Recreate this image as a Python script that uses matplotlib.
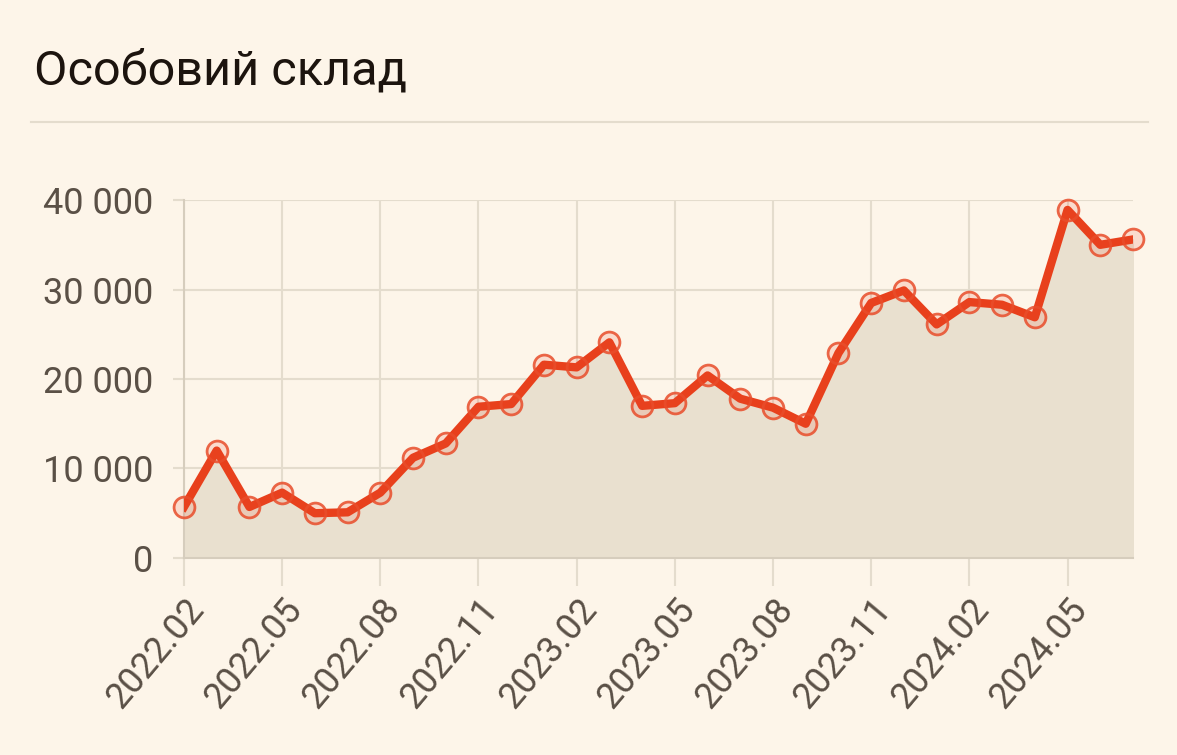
import numpy as np
import matplotlib.pyplot as plt

months = ["2022.02", "2022.03", "2022.04", "2022.05", "2022.06", "2022.07",
          "2022.08", "2022.09", "2022.10", "2022.11", "2022.12", "2023.01",
          "2023.02", "2023.03", "2023.04", "2023.05", "2023.06", "2023.07",
          "2023.08", "2023.09", "2023.10", "2023.11", "2023.12", "2024.01",
          "2024.02", "2024.03", "2024.04", "2024.05", "2024.06", "2024.07"]
personnel = [5700, 12000, 5700, 7300, 5000, 5100,
             7300, 11200, 12800, 16900, 17200, 21600,
             21300, 24100, 17000, 17300, 20400, 17800,
             16800, 15000, 22900, 28500, 29900, 26100,
             28600, 28300, 26900, 38900, 35000, 35600]
y_ticks = [0, 10000, 20000, 30000, 40000]

bg = "#fdf5e9"
grid_c = "#e4dccd"
red = "#e8401c"
text_c = "#5a5046"

plt.rcParams['font.family'] = ['Roboto', 'DejaVu Sans']

fig = plt.figure(figsize=(11.77, 7.55), dpi=100, facecolor=bg)
fig.text(0.029, 0.905, "Особовий склад", fontsize=35, color="#1c140e", va="center")
fig.add_artist(plt.Line2D([0.026, 0.975], [0.839, 0.839], color=grid_c, lw=1.5,
                          transform=fig.transFigure))

ax = fig.add_axes([0.1563, 0.261, 0.8063, 0.474])
ax.set_facecolor(bg)
x = np.arange(len(months))
ax.fill_between(x, personnel, 0, color="#e9e0cf", zorder=1)
ax.plot(x, personnel, color=red, lw=6, zorder=3, solid_joinstyle="round")
ax.plot(x, personnel, "o", ms=15, mfc=(0.93, 0.30, 0.18, 0.15), mec=(0.91, 0.30, 0.17, 0.85),
        mew=2, zorder=4, clip_on=False)

ax.set_xlim(0, len(months) - 1)
ax.set_ylim(0, 40000)
ax.set_xticks(x[::3])
ax.set_xticklabels(months[::3], rotation=50, ha="right", rotation_mode="anchor")
ax.set_yticks(y_ticks)
ax.set_yticklabels([f"{v:,}".replace(",", " ") for v in y_ticks])
ax.tick_params(axis="x", length=20, width=1.5, color=grid_c, labelsize=26, labelcolor=text_c, pad=4)
ax.tick_params(axis="y", length=8, width=1.5, color=grid_c, labelsize=26, labelcolor=text_c, pad=14)
ax.grid(True, color=grid_c, lw=1.5, zorder=0)
ax.set_axisbelow(True)
for s in ["top", "right"]:
    ax.spines[s].set_visible(False)
ax.spines["left"].set_color("#d6cdbd")
ax.spines["left"].set_linewidth(1.5)
ax.spines["bottom"].set_color("#d6cdbd")
ax.spines["bottom"].set_linewidth(1.5)

fig.savefig("out.png", dpi=100, facecolor=bg)
